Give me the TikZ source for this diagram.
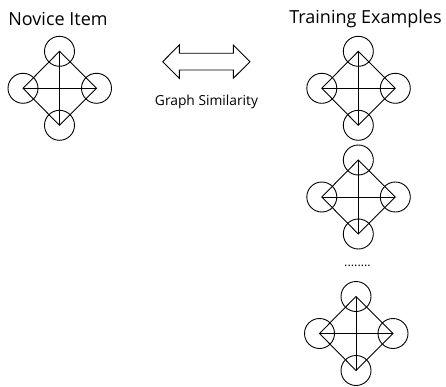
\documentclass[tikz,border=0pt]{standalone}
\usepackage{fontspec}
\setmainfont{Open Sans}
\begin{document}
\begin{tikzpicture}[x=1pt,y=-1pt,
  vertex/.style={draw,circle,minimum size=30pt,inner sep=0pt,line width=0.9pt},
  edge/.style={line width=0.9pt},
  title/.style={font=\fontsize{18}{20}\selectfont,inner sep=0pt},
  caption/.style={font=\fontsize{13.8}{16}\selectfont,inner sep=0pt}]
\useasboundingbox (0,0) rectangle (446,387);

% one graph: four vertices on a diamond, joined around the rim and across both diagonals
\newcommand\graphat[3]{%
  \node[vertex] (#1t) at (#2,#3-37) {};
  \node[vertex] (#1l) at (#2-36.5,#3) {};
  \node[vertex] (#1r) at (#2+37,#3) {};
  \node[vertex] (#1b) at (#2,#3+37) {};
  \draw[edge] (#1t.center) -- (#1r.center) -- (#1b.center) -- (#1l.center) -- cycle;
  \draw[edge] (#1t.center) -- (#1b.center);
  \draw[edge] (#1l.center) -- (#1r.center);
}

\node[title] (novice) at (58,19) {Novice Item};
\node[title] (train) at (365.5,19) {Training Examples};

\graphat{n}{59.5}{88.3}
\graphat{a}{358.3}{88.3}
\graphat{b}{358.3}{197}
\graphat{c}{356}{333.5}

\node[inner sep=0pt] (dots) at (357.5,266) {\fontsize{12.5}{14}\selectfont........};

% double-headed similarity arrow
\draw[line width=0.9pt,line join=miter]
  (162.7,61.7) -- (179.3,45) -- (179.3,53.3) -- (233.3,53.3) -- (233.3,45)
  -- (250,61.7) -- (233.3,78.3) -- (233.3,70) -- (179.3,70) -- (179.3,78.3) -- cycle;
\node[caption] (simlabel) at (206.5,102) {Graph Similarity};
\end{tikzpicture}
\end{document}
